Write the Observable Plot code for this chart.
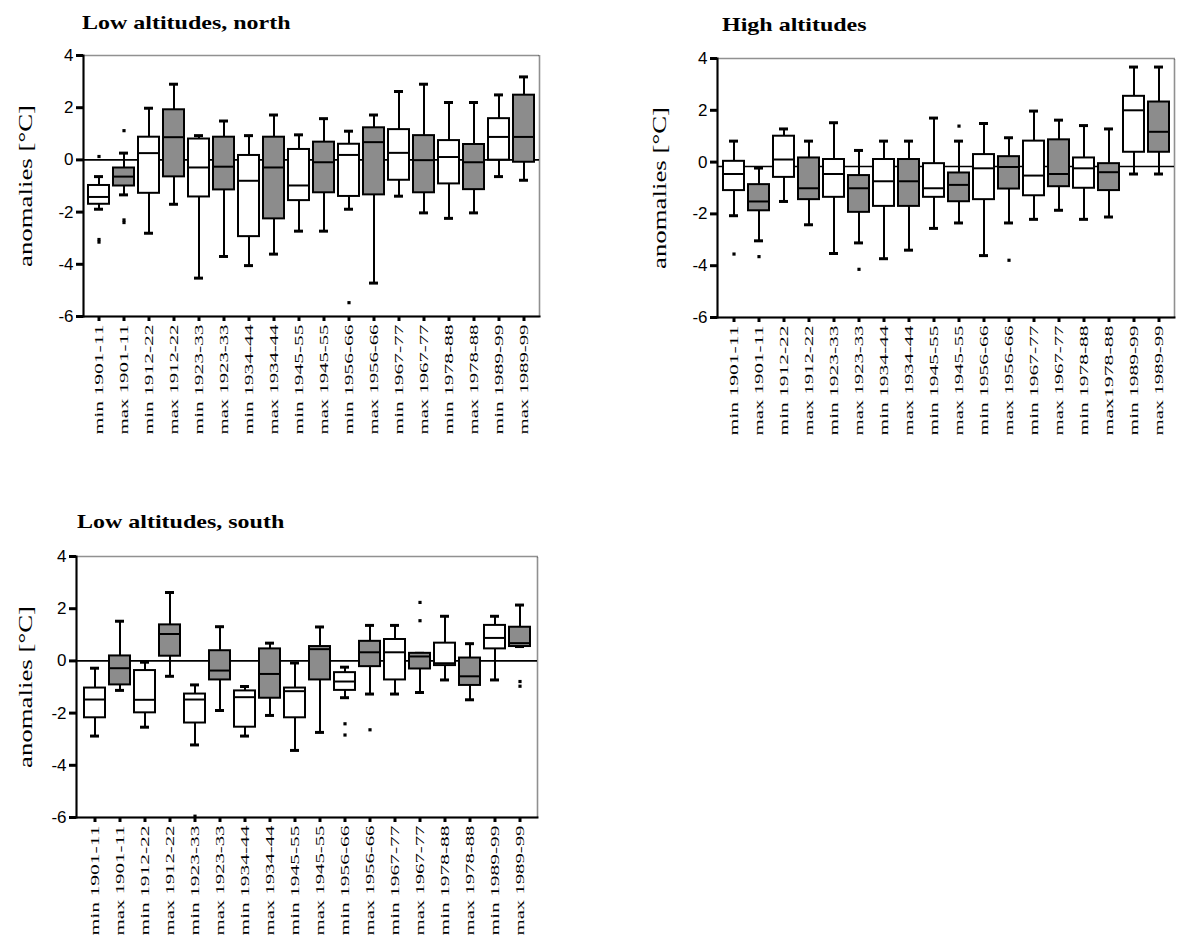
<!DOCTYPE html>
<html>
<head>
<meta charset="utf-8">
<script src="https://cdn.jsdelivr.net/npm/d3@7"></script>
<script src="https://cdn.jsdelivr.net/npm/@observablehq/plot@0.6"></script>
<style>
  body { margin: 0; background: #fff; }
  #page { position: relative; width: 1177px; height: 945px; overflow: hidden; background: #fff; }
  .panel { position: absolute; }
  .title {
    position: absolute; white-space: nowrap; line-height: 1;
    font-family: "Liberation Serif", "Times New Roman", serif; font-weight: bold; font-size: 19.5px;
    transform-origin: 0 0; transform: scaleX(1.23); color: #000;
  }
</style>
</head>
<body>
<div id="page"></div>
<script>
// Category labels (min / max temperature anomalies per decade)
const labelsLow = ["min 1901-11","max 1901-11","min 1912-22","max 1912-22","min 1923-33","max 1923-33",
  "min 1934-44","max 1934-44","min 1945-55","max 1945-55","min 1956-66","max 1956-66",
  "min 1967-77","max 1967-77","min 1978-88","max 1978-88","min 1989-99","max 1989-99"];
const labelsHigh = ["min 1901-11","max 1901-11","min 1912-22","max 1912-22","min 1923-33","max 1923-33",
  "min 1934-44","max 1934-44","min 1945-55","max 1945-55","min 1956-66","max 1956-66",
  "min 1967-77","max 1967-77","min 1978-88","max1978-88","min 1989-99","max 1989-99"];
const yTicks = [-6, -4, -2, 0, 2, 4];

// Low altitudes, north
const northLo  = [-1.89,-1.34,-2.81,-1.70,-4.53,-3.70,-4.05,-3.61,-2.73,-2.73,-1.89,-4.72,-1.39,-2.03,-2.24,-2.03,-0.64,-0.78];
const northQ1  = [-1.70,-1.00,-1.28,-0.65,-1.42,-1.15,-2.94,-2.26,-1.56,-1.26,-1.40,-1.34,-0.78,-1.26,-0.92,-1.14,-0.01,-0.09];
const northMed = [-1.42,-0.64, 0.26, 0.87,-0.29,-0.26,-0.80,-0.29,-0.98,-0.09, 0.19, 0.68, 0.27,-0.01, 0.11,-0.09, 0.88, 0.88];
const northQ3  = [-0.98,-0.31, 0.87, 1.92, 0.80, 0.87, 0.17, 0.87, 0.40, 0.68, 0.60, 1.23, 1.16, 0.93, 0.74, 0.59, 1.58, 2.48];
const northHi  = [-0.64, 0.26, 1.98, 2.90, 0.93, 1.49, 0.93, 1.72, 0.96, 1.58, 1.10, 1.72, 2.62, 2.90, 2.20, 2.20, 2.49, 3.18];
const northOut = [[0, 0.13],[0,-3.05],[0,-3.15],[1, 1.12],[1,-2.30],[1,-2.40],[10,-5.47]];
const northRef = 0;

// High altitudes
const highLo  = [-2.07,-3.04,-1.52,-2.42,-3.53,-3.12,-3.73,-3.40,-2.56,-2.35,-3.61,-2.35,-2.21,-1.86,-2.21,-2.12,-0.46,-0.46];
const highQ1  = [-1.10,-1.88,-0.59,-1.45,-1.36,-1.94,-1.71,-1.71,-1.36,-1.53,-1.45,-1.04,-1.30,-0.95,-1.01,-1.10, 0.38, 0.38];
const highMed = [-0.46,-1.52, 0.10,-1.01,-0.46,-1.01,-0.74,-0.74,-1.01,-0.88,-0.24,-0.19,-0.52,-0.46,-0.24,-0.39, 2.00, 1.17];
const highQ3  = [ 0.03,-0.87, 1.00, 0.16, 0.10,-0.52, 0.10, 0.10,-0.06,-0.42, 0.29, 0.21, 0.81, 0.86, 0.16,-0.06, 2.54, 2.32];
const highHi  = [ 0.81,-0.23, 1.28, 0.81, 1.52, 0.45, 0.81, 0.81, 1.70, 0.81, 1.49, 0.94, 1.97, 1.62, 1.41, 1.28, 3.67, 3.67];
const highOut = [[0,-3.55],[1,-3.65],[5,-4.14],[9, 1.39],[11,-3.79]];
const highRef = -0.17;

// Low altitudes, south
const southLo  = [-2.88,-1.13,-2.54,-0.59,-3.22,-1.90,-2.88,-2.09,-3.43,-2.74,-1.41,-1.27,-1.27,-1.21,-0.73,-1.49,-0.73, 0.55];
const southQ1  = [-2.18,-0.92,-1.99, 0.18,-2.38,-0.73,-2.54,-1.43,-2.18,-0.73,-1.13,-0.22,-0.73,-0.31,-0.18,-0.94, 0.46, 0.55];
const southMed = [-1.48,-0.28,-1.49, 1.03,-1.48,-0.37,-1.39,-0.50,-1.16, 0.45,-0.79, 0.33, 0.33, 0.17,-0.09,-0.59, 0.88, 0.68];
const southQ3  = [-1.04, 0.19,-0.37, 1.38,-1.27, 0.39,-1.15, 0.46,-1.04, 0.55,-0.45, 0.75, 0.82, 0.29, 0.68, 0.11, 1.36, 1.29];
const southHi  = [-0.28, 1.52,-0.05, 2.62,-0.92, 1.31,-0.98, 0.68,-0.08, 1.30,-0.24, 1.36, 1.36, 0.29, 1.71, 0.66, 1.71, 2.14];
const southOut = [[4,-5.95],[10,-2.41],[10,-2.84],[11,-2.64],[13, 2.24],[13, 1.54],[17,-0.79],[17,-0.97]];
const southRef = 0;

const yLabel = "anomalies [°C]";
const serif = "Liberation Serif, Times New Roman, serif";
const sans = "Liberation Sans, Arial, sans-serif";

function boxPanel({labels, lo, q1, med, q3, hi, out, ref, width, height, marginLeft, marginTop, marginRight, marginBottom, labelOffset}) {
  const rows = labels.map((label, i) => ({label, lo: lo[i], q1: q1[i], med: med[i], q3: q3[i], hi: hi[i], max: label.startsWith("max")}));
  const outliers = out.map(([i, v]) => ({label: labels[i], v}));
  const svg = Plot.plot({
    width, height, marginLeft, marginTop, marginRight, marginBottom,
    style: {background: "white", color: "black", overflow: "visible"},
    x: {domain: labels, paddingInner: 0.17, paddingOuter: 0.085},
    y: {domain: [-6, 4]},
    marks: [
      // dotted box around the plot area, solid axis lines on the left and bottom
      Plot.frame({stroke: "#222", strokeDasharray: "1,1", strokeWidth: 1.6}),
      Plot.frame({anchor: "left", stroke: "black", strokeWidth: 2}),
      Plot.frame({anchor: "bottom", stroke: "black", strokeWidth: 2}),
      Plot.ruleY([ref], {stroke: "black", strokeWidth: 1.6}),
      // whiskers with caps
      Plot.ruleX(rows, {x: "label", y1: "lo", y2: "hi", stroke: "black", strokeWidth: 2}),
      Plot.tickY(rows, {x: "label", y: "lo", stroke: "black", strokeWidth: 3, inset: 6}),
      Plot.tickY(rows, {x: "label", y: "hi", stroke: "black", strokeWidth: 3, inset: 6}),
      // interquartile boxes: white for minima, grey for maxima
      Plot.barY(rows, {filter: d => !d.max, x: "label", y1: "q1", y2: "q3", fill: "white", stroke: "black", strokeWidth: 2}),
      Plot.barY(rows, {filter: d => d.max, x: "label", y1: "q1", y2: "q3", fill: "#8c8c8c", stroke: "black", strokeWidth: 2}),
      Plot.tickY(rows, {x: "label", y: "med", stroke: "black", strokeWidth: 2}),
      Plot.dot(outliers, {x: "label", y: "v", symbol: "square", r: 1.8, fill: "black", stroke: null}),
      Plot.axisY({ticks: yTicks, tickSize: 7, tickPadding: 3, label: null, strokeWidth: 3,
        fontSize: 17, fontFamily: sans, fill: "black",
        tickFormat: d => d < 0 ? "-" + Math.abs(d) : String(d)}),
      Plot.axisX({tickRotate: -90, tickSize: 5, tickPadding: 3, label: null, strokeWidth: 3,
        fontSize: 11.5, fontFamily: serif, fill: "black"}),
      Plot.text([yLabel], {frameAnchor: "left", rotate: -90, dx: -labelOffset, lineAnchor: "bottom",
        textAnchor: "middle", fontSize: 18, fontFamily: serif, fill: "black"})
    ]
  });
  // elongated tick labels and axis title, as in the source figure's typesetting
  const s = d3.select(svg);
  s.selectAll('[aria-label="x-axis tick label"] text')
    .attr("textLength", 110).attr("lengthAdjust", "spacingAndGlyphs");
  s.selectAll('[aria-label="text"] text')
    .attr("textLength", 162).attr("lengthAdjust", "spacingAndGlyphs");
  return svg;
}

const page = document.getElementById("page");
function place(node, left, top) {
  node.classList.add("panel");
  node.style.left = left + "px";
  node.style.top = top + "px";
  page.appendChild(node);
}
function title(text, left, top) {
  const div = document.createElement("div");
  div.className = "title";
  div.textContent = text;
  div.style.left = left + "px";
  div.style.top = top + "px";
  page.appendChild(div);
}

place(boxPanel({labels: labelsLow, lo: northLo, q1: northQ1, med: northMed, q3: northQ3, hi: northHi, out: northOut, ref: northRef,
  width: 549, height: 401, marginLeft: 83, marginTop: 15, marginRight: 10, marginBottom: 125, labelOffset: 51.5}), 0, 40);
place(boxPanel({labels: labelsHigh, lo: highLo, q1: highQ1, med: highMed, q3: highQ3, hi: highHi, out: highOut, ref: highRef,
  width: 547, height: 402, marginLeft: 87, marginTop: 18, marginRight: 3, marginBottom: 125, labelOffset: 52}), 630, 40);
place(boxPanel({labels: labelsLow, lo: southLo, q1: southQ1, med: southMed, q3: southQ3, hi: southHi, out: southOut, ref: southRef,
  width: 549, height: 405, marginLeft: 76, marginTop: 16, marginRight: 12, marginBottom: 128, labelOffset: 44.5}), 0, 540);

title("Low altitudes, north", 82, 12.7);
title("High altitudes", 722, 14.7);
title("Low altitudes, south", 77, 511.7);
</script>
</body>
</html>
